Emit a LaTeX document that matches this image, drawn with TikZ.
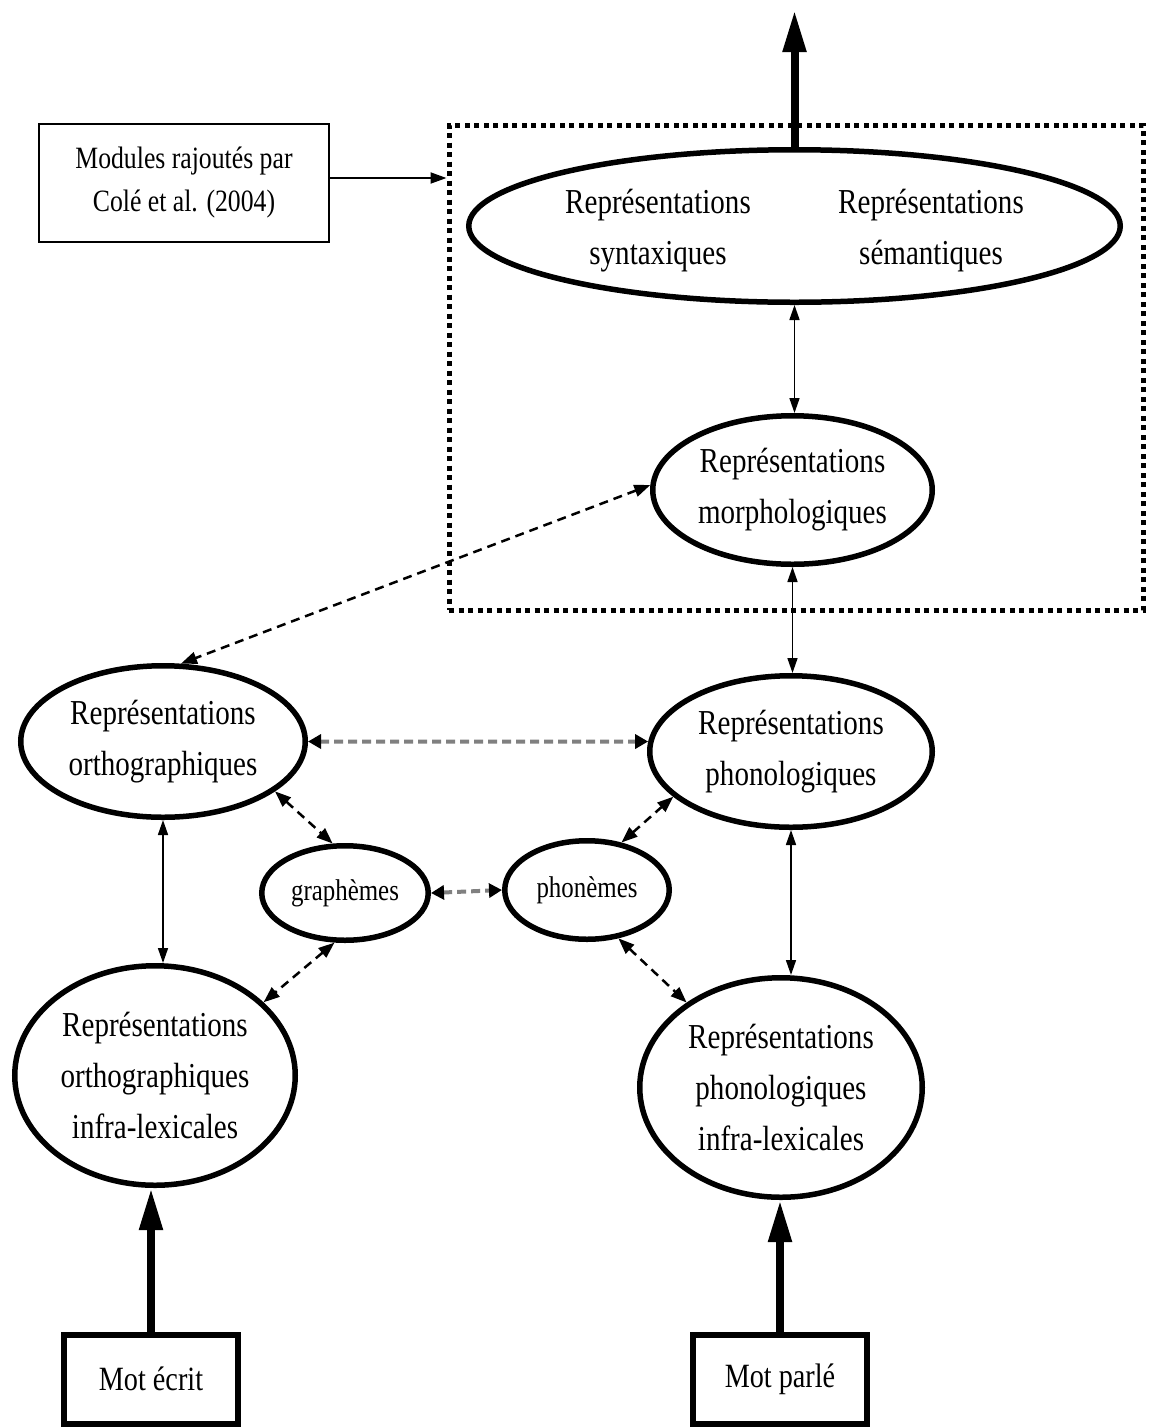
\documentclass[tikz,border=0pt]{standalone}
\usepackage{fontspec}
\setmainfont[FakeStretch=0.83]{Liberation Serif}
\usetikzlibrary{arrows.meta,shapes.geometric}
\begin{document}
\begin{tikzpicture}[x=1pt,y=-1pt,
  ell/.style={ellipse, draw, line width=5.5pt, inner sep=0pt, align=center,
    font=\fontsize{35}{51}\selectfont},
  smallell/.style={ell, font=\fontsize{30}{36}\selectfont},
  txt/.style={align=center, inner sep=0pt, font=\fontsize{35}{51}\selectfont},
  motbox/.style={rectangle, draw, line width=6pt, inner sep=0pt,
    minimum width=174pt, minimum height=89pt, font=\fontsize{34}{40}\selectfont},
  modbox/.style={rectangle, draw, line width=2.5pt, inner sep=0pt, align=center,
    minimum width=290pt, minimum height=118pt, font=\fontsize{31}{43}\selectfont},
  dottedframe/.style={rectangle, draw, line width=5pt, dash pattern=on 5pt off 4.5pt,
    inner sep=0pt, minimum width=694pt, minimum height=485pt},
  thinarr/.style={line width=1.6pt,
    {Triangle[length=15pt,width=10pt]}-{Triangle[length=15pt,width=10pt]}},
  onearr/.style={line width=2pt, -{Triangle[length=16pt,width=11pt]}},
  dasharr/.style={line width=2.5pt, dash pattern=on 9pt off 6pt,
    {Triangle[length=16pt,width=12pt]}-{Triangle[length=16pt,width=12pt]}},
  grayarr/.style={draw=black!50, line width=4pt, dash pattern=on 9pt off 5pt,
    {Triangle[length=13pt,width=14pt,color=black]}-{Triangle[length=13pt,width=14pt,color=black]}},
  thickarr/.style={line width=8pt, -{Triangle[length=42pt,width=22pt]}}
]
\useasboundingbox (0,0) rectangle (1151,1428);

% dotted frame
\node[dottedframe] (group) at (796,367.5) {};

% modules box
\node[modbox] (modules) at (184,183) {Modules rajoutés par\\Colé et al. (2004)};

% big ellipse
\node[ell, minimum width=651.5pt, minimum height=152.5pt] (big) at (794.5,226) {};
\node[txt] (syn) at (658,231) {Représentations\\syntaxiques};
\node[txt] (sem) at (931,231) {Représentations\\sémantiques};

% other ellipses
\node[ell, minimum width=279.5pt, minimum height=148.5pt] (morph) at (792.5,490) {Représentations\\morphologiques};
\node[ell, minimum width=284.5pt, minimum height=151.5pt] (ortho) at (163,741.5) {Représentations\\orthographiques};
\node[ell, minimum width=282.5pt, minimum height=151.5pt] (phono) at (791,751.5) {Représentations\\phonologiques};
\node[smallell, minimum width=166.5pt, minimum height=94.5pt] (graph) at (345,893) {graphèmes};
\node[smallell, minimum width=164.5pt, minimum height=98.5pt] (phon) at (587,890) {phonèmes};
\node[ell, minimum width=280.5pt, minimum height=219.5pt] (orthoinfra) at (155,1075.5) {Représentations\\orthographiques\\infra-lexicales};
\node[ell, minimum width=282.5pt, minimum height=219.5pt] (phonoinfra) at (781,1087.5) {Représentations\\phonologiques\\infra-lexicales};

% input boxes
\node[motbox] (ecrit) at (151,1379) {Mot écrit};
\node[motbox] (parle) at (780,1379) {Mot parlé};

% connectors
\coordinate (topend) at (792,10);
\draw[thickarr] (big.north) -- (big.north |- topend);
\draw[onearr] (modules.east |- 0,178) -- (group.west |- 0,178);

\draw[thinarr] (big.south) -- (big.south |- morph.north);
\draw[thinarr] (morph.south) -- (morph.south |- phono.north);
\draw[thinarr] (ortho.south) -- (ortho.south |- orthoinfra.north);
\draw[thinarr] (phono.south) -- (phono.south |- phonoinfra.north);

\draw[dasharr] (morph.178) -- (ortho.77);
\draw[dasharr] (ortho.-24) -- (graph.104);
\draw[dasharr] (graph.-102) -- (orthoinfra.34);
\draw[dasharr] (phon.54) -- (phono.201);
\draw[dasharr] (phon.-57) -- (phonoinfra.138);

\draw[grayarr] (ortho.east) -- (phono.176.5);
\draw[grayarr] (graph.east) -- (phon.west);

\draw[thickarr] (ecrit.north) -- (ecrit.north |- orthoinfra.south);
\draw[thickarr] (parle.north) -- (parle.north |- phonoinfra.south);
\end{tikzpicture}
\end{document}
